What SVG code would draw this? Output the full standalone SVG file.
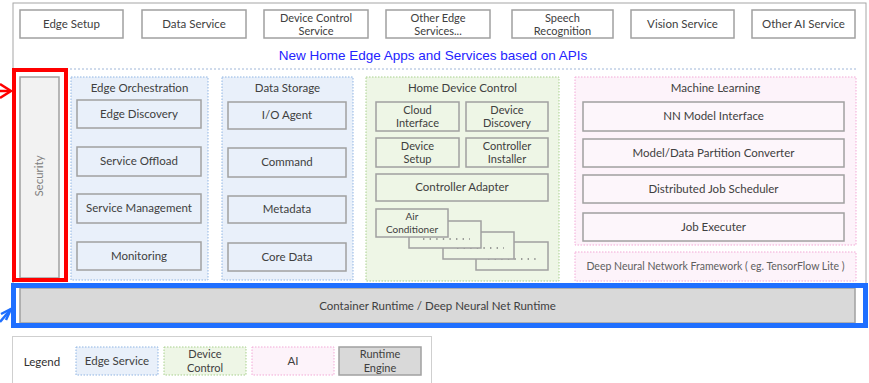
<svg xmlns="http://www.w3.org/2000/svg" width="869" height="383" viewBox="0 0 869 383">
<style>
text{font-family:Lato,"Noto Sans","DejaVu Sans",sans-serif;font-size:11.5px;fill:#404040;text-anchor:middle}
.two{font-size:11px}
.top{fill:#fff;stroke:#a0a0a0;stroke-width:1.5}
.box{stroke:#a0a0a0;stroke-width:1.5}
.bg{fill:#e9f0fa;stroke:#8fb4e3;stroke-width:1;stroke-dasharray:1.5,1.5}
.gg{fill:#eef6e6;stroke:#a8d08d;stroke-width:1;stroke-dasharray:1.5,1.5}
.pg{fill:#fdf3fa;stroke:#f3a9d6;stroke-width:1;stroke-dasharray:1.5,1.5}
.bb{fill:#e9f0fa}
.gb{fill:#eef6e6}
.pb{fill:#fdf6fb}
.dots{stroke:#808080;stroke-width:1.4;stroke-dasharray:1.4,5.2;fill:none}
</style>
<rect x="0" y="0" width="869" height="383" fill="#fff"/>
<rect id="frame" x="13" y="3" width="853" height="282" fill="#fff" stroke="#a6a6a6" stroke-width="1"/>

<g id="top-services">
<g id="edge-setup"><rect class="top" x="20" y="10" width="103" height="28"/><text x="71.5" y="28">Edge Setup</text></g>
<g id="data-service"><rect class="top" x="142" y="10" width="104" height="28"/><text x="194" y="28">Data Service</text></g>
<g id="device-control-service"><rect class="top" x="264" y="10" width="104" height="28"/><text class="two" x="316" y="21.5">Device Control</text><text class="two" x="316" y="35">Service</text></g>
<g id="other-edge-services"><rect class="top" x="386" y="10" width="104" height="28"/><text class="two" x="438" y="21.5">Other Edge</text><text class="two" x="438" y="35">Services...</text></g>
<g id="speech-recognition"><rect class="top" x="512" y="10" width="101" height="28"/><text class="two" x="562.5" y="21.5">Speech</text><text class="two" x="562.5" y="35">Recognition</text></g>
<g id="vision-service"><rect class="top" x="631" y="10" width="103" height="28"/><text x="682.5" y="28">Vision Service</text></g>
<g id="other-ai-service"><rect class="top" x="752" y="10" width="103" height="28"/><text x="803.5" y="28">Other AI Service</text></g>
</g>

<text x="433" y="60" style="font-family:'Liberation Sans',Arial,sans-serif;font-size:13.5px;fill:#2323ff">New Home Edge Apps and Services based on APIs</text>
<line x1="70" y1="69" x2="856" y2="69" stroke="#9fb6d8" stroke-width="1" stroke-dasharray="2,2"/>

<g id="security">
<rect x="20" y="77" width="39" height="201" fill="#f2f2f2" stroke="#a0a0a0" stroke-width="1.5"/>
<text transform="translate(43,176) rotate(-90)" style="fill:#808080">Security</text>
<rect x="14" y="70" width="52" height="210" fill="none" stroke="#ff0000" stroke-width="4"/>
</g>

<g id="edge-orchestration">
<rect class="bg" x="71" y="77" width="137" height="203"/>
<text x="139.5" y="92">Edge Orchestration</text>
<rect class="box bb" x="77" y="100" width="124" height="28"/><text x="139" y="118">Edge Discovery</text>
<rect class="box bb" x="77" y="147" width="124" height="29"/><text x="139" y="165">Service Offload</text>
<rect class="box bb" x="77" y="194" width="124" height="29"/><text x="139" y="212">Service Management</text>
<rect class="box bb" x="77" y="242" width="124" height="28"/><text x="139" y="260">Monitoring</text>
</g>

<g id="data-storage">
<rect class="bg" x="222" y="77" width="131" height="203"/>
<text x="287.5" y="92">Data Storage</text>
<rect class="box bb" x="228" y="102" width="118" height="27"/><text x="287" y="119">I/O Agent</text>
<rect class="box bb" x="228" y="148" width="118" height="29"/><text x="287" y="166">Command</text>
<rect class="box bb" x="228" y="196" width="118" height="27"/><text x="287" y="213">Metadata</text>
<rect class="box bb" x="228" y="243" width="118" height="28"/><text x="287" y="261">Core Data</text>
</g>

<g id="home-device-control">
<rect class="gg" x="366" y="77" width="193" height="204"/>
<text x="462.5" y="92">Home Device Control</text>
<rect class="box gb" x="376" y="102" width="83" height="29"/><text class="two" x="417.5" y="113.5">Cloud</text><text class="two" x="417.5" y="127">Interface</text>
<rect class="box gb" x="466" y="102" width="82" height="29"/><text class="two" x="507" y="113.5">Device</text><text class="two" x="507" y="127">Discovery</text>
<rect class="box gb" x="376" y="138" width="83" height="29"/><text class="two" x="417.5" y="149.5">Device</text><text class="two" x="417.5" y="163">Setup</text>
<rect class="box gb" x="466" y="138" width="82" height="29"/><text class="two" x="507" y="149.5">Controller</text><text class="two" x="507" y="163">Installer</text>
<rect class="box gb" x="376" y="174" width="172" height="27"/><text x="462" y="191">Controller Adapter</text>
<rect class="box gb" x="476" y="242" width="72" height="28"/><line class="dots" x1="488" y1="259" x2="538" y2="259"/>
<rect class="box gb" x="443" y="232" width="71" height="27"/><line class="dots" x1="457" y1="248" x2="504" y2="248"/>
<rect class="box gb" x="409" y="221" width="72" height="27"/><line class="dots" x1="423" y1="239" x2="470" y2="239"/>
<rect class="box gb" x="376" y="209" width="72" height="28"/><text x="412" y="220" style="font-size:10px">Air</text><text x="412" y="232.5" style="font-size:10px">Conditioner</text>
</g>

<g id="machine-learning">
<rect class="pg" x="575" y="77" width="281" height="168"/>
<text x="715.5" y="92">Machine Learning</text>
<rect class="box pb" x="583" y="102" width="261" height="29"/><text x="713.5" y="120">NN Model Interface</text>
<rect class="box pb" x="583" y="139" width="261" height="28"/><text x="713.5" y="157">Model/Data Partition Converter</text>
<rect class="box pb" x="583" y="175" width="261" height="28"/><text x="713.5" y="193">Distributed Job Scheduler</text>
<rect class="box pb" x="583" y="213" width="261" height="28"/><text x="713.5" y="231">Job Executer</text>
</g>

<g id="dnn-framework">
<rect class="pg" x="575" y="252" width="281" height="29"/>
<text x="715.5" y="270" style="font-size:10.5px;fill:#606060">Deep Neural Network Framework ( eg. TensorFlow Lite )</text>
</g>

<g id="container-runtime">
<rect x="20" y="288" width="835" height="35" fill="#d9d9d9" stroke="#a0a0a0" stroke-width="1.5"/>
<text x="437.5" y="310">Container Runtime / Deep Neural Net Runtime</text>
<rect x="13.5" y="285.5" width="852" height="40" fill="none" stroke="#1f6fff" stroke-width="5"/>
</g>

<g id="connectors" fill="none" stroke-width="2.5">
<polyline points="0,84 11,91 0,98" stroke="#ff0000"/>
<line x1="0" y1="91" x2="10" y2="91" stroke="#ff0000"/>
<polyline points="1,314 11,309 6,320" stroke="#1f6fff"/>
<line x1="0" y1="322" x2="11" y2="309" stroke="#1f6fff"/>
</g>

<g id="legend">
<rect x="12.5" y="336.5" width="419" height="50" fill="#fff" stroke="#cfcfcf" stroke-width="1"/>
<text x="42" y="366" style="fill:#303030">Legend</text>
<g id="legend-edge"><rect class="bg" x="76" y="347" width="82" height="28"/><text x="117" y="365">Edge Service</text></g>
<g id="legend-device"><rect class="gg" x="164" y="347" width="82" height="28"/><text class="two" x="205" y="358">Device</text><text class="two" x="205" y="371.5">Control</text></g>
<g id="legend-ai"><rect class="pg" x="252" y="347" width="82" height="28"/><text x="293" y="365">AI</text></g>
<g id="legend-runtime"><rect x="339" y="347" width="82" height="28" fill="#d9d9d9" stroke="#a0a0a0" stroke-width="1.5"/><text class="two" x="380" y="358">Runtime</text><text class="two" x="380" y="371.5">Engine</text></g>
</g>
</svg>
